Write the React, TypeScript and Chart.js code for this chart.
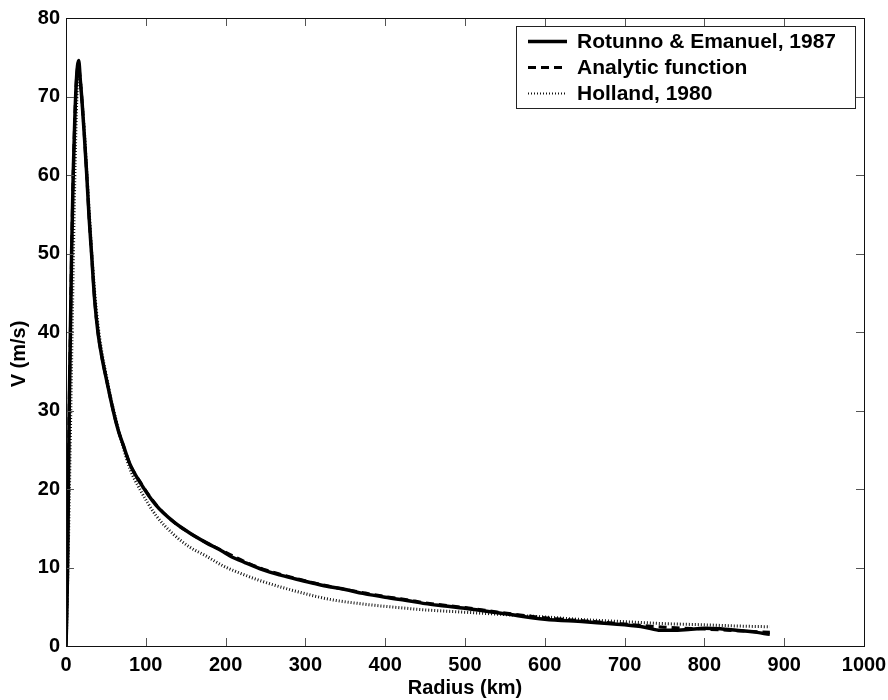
import { useEffect, useRef } from "react";
import { Chart, registerables } from "chart.js";

Chart.register(...registerables);

// Rotunno & Emanuel, 1987 (solid)
const reRadius = [0, 1, 2, 3, 4, 5.5, 7, 9, 11, 13, 15.9, 18, 20, 23, 26, 29, 32, 36, 40, 45, 50.6, 56, 61, 66, 71.4, 80, 92.4, 113, 135, 155, 175, 197, 205, 225, 247, 270, 289, 310, 330, 350, 372, 400, 427, 450, 475, 500, 550, 600, 650, 700, 725, 745, 760, 780, 800, 820, 840, 860, 882];
const reSpeed = [0, 4, 10, 20, 30, 40, 50, 60, 67, 72, 74.6, 72, 69.5, 65, 60, 54.5, 50, 44, 40, 36.8, 34.0, 31.4, 29.2, 27.3, 25.7, 23.2, 20.9, 17.9, 15.8, 14.4, 13.2, 12.0, 11.5, 10.6, 9.7, 9.0, 8.5, 8.0, 7.55, 7.2, 6.7, 6.2, 5.8, 5.4, 5.1, 4.8, 4.1, 3.4, 3.1, 2.7, 2.4, 2.0, 2.0, 2.1, 2.25, 2.2, 2.0, 1.8, 1.5];

// Analytic function (dashed)
const anRadius = [0, 1, 2, 3, 4, 5.5, 7, 9, 11, 13, 15.5, 18, 20, 23, 26, 29, 32, 36, 40, 45, 50.6, 56, 61, 66, 71.4, 80, 92.4, 113, 135, 155, 175, 197, 225, 247, 289, 330, 372, 400, 427, 450, 500, 550, 600, 650, 700, 750, 800, 840, 882];
const anSpeed = [0, 5, 11, 20, 30, 40, 50, 60, 67, 72, 74, 72, 69.5, 65, 60, 54.5, 50, 44, 40, 36.8, 34.0, 31.4, 29.2, 27.3, 25.7, 23.2, 21.0, 18.0, 15.8, 14.4, 13.2, 12.1, 10.7, 9.8, 8.6, 7.6, 6.8, 6.3, 5.9, 5.5, 4.9, 4.2, 3.6, 3.2, 2.8, 2.4, 2.15, 1.95, 1.75];

// Holland, 1980 (dotted)
const hoRadius = [0.5, 2, 4, 6, 8, 10, 12, 14, 15.9, 18, 20, 23, 26, 29, 32, 36, 40, 45, 50.6, 56, 61, 66, 71.4, 80, 92.4, 113, 135, 155, 175, 197, 225, 247, 289, 330, 372, 400, 427, 450, 500, 550, 600, 650, 700, 750, 800, 840, 882];
const hoSpeed = [1, 8, 18, 30, 42, 54, 64, 71, 73.5, 72, 69.5, 65.5, 60.5, 55.5, 50.5, 45, 41, 37.4, 34.4, 31.7, 29.5, 27.4, 25.4, 22.6, 20.0, 16.6, 14.2, 12.6, 11.5, 10.2, 9.0, 8.2, 6.95, 5.95, 5.35, 5.05, 4.8, 4.6, 4.3, 4.0, 3.7, 3.35, 3.1, 2.85, 2.7, 2.55, 2.45];

const seriesLabels = ["Rotunno & Emanuel, 1987", "Analytic function", "Holland, 1980"];
const xTitle = "Radius (km)";
const yTitle = "V (m/s)";
const xMin = 0, xMax = 1000, xStep = 100;
const yMin = 0, yMax = 80, yStep = 10;

const FONT = '"Liberation Sans", Arial, Helvetica, sans-serif';

const toPoints = (xs: number[], ys: number[]) => xs.map((x, i) => ({ x, y: ys[i] }));

const framePlugin = {
  id: "matlabFrame",
  afterDraw(chart: any) {
    const { ctx, chartArea: a, scales } = chart;
    const xs = scales.x;
    const ys = scales.y;
    ctx.save();
    // inward ticks on all four sides
    ctx.strokeStyle = "#555";
    ctx.lineWidth = 1;
    ctx.beginPath();
    const L = 8;
    xs.ticks.forEach((t: any) => {
      const px = Math.round(xs.getPixelForValue(t.value)) + 0.5;
      ctx.moveTo(px, a.bottom);
      ctx.lineTo(px, a.bottom - L);
      ctx.moveTo(px, a.top);
      ctx.lineTo(px, a.top + L);
    });
    ys.ticks.forEach((t: any) => {
      const py = Math.round(ys.getPixelForValue(t.value)) + 0.5;
      ctx.moveTo(a.left, py);
      ctx.lineTo(a.left + L, py);
      ctx.moveTo(a.right, py);
      ctx.lineTo(a.right - L, py);
    });
    ctx.stroke();
    // frame
    ctx.strokeStyle = "#111";
    ctx.strokeRect(Math.round(a.left) + 0.5, Math.round(a.top) + 0.5, Math.round(a.right - a.left), Math.round(a.bottom - a.top));

    // y title
    ctx.save();
    ctx.translate(19, 354);
    ctx.rotate(-Math.PI / 2);
    ctx.font = `bold 20px ${FONT}`;
    ctx.fillStyle = "#000";
    ctx.textAlign = "center";
    ctx.textBaseline = "middle";
    ctx.fillText(yTitle, 0, 0);
    ctx.restore();

    // legend box
    const bx = 516.5, by = 26.5, bw = 339, bh = 82;
    ctx.fillStyle = "#fff";
    ctx.fillRect(bx, by, bw, bh);
    ctx.strokeStyle = "#222";
    ctx.lineWidth = 1;
    ctx.strokeRect(bx, by, bw, bh);
    const rows = [41.5, 67.5, 93.5];
    chart.data.datasets.forEach((ds: any, i: number) => {
      const yy = rows[i];
      ctx.save();
      ctx.strokeStyle = ds.borderColor;
      ctx.lineWidth = i === 2 ? 2 : ds.borderWidth;
      ctx.setLineDash(ds.borderDash || []);
      ctx.beginPath();
      ctx.moveTo(528, yy);
      ctx.lineTo(567, yy);
      ctx.stroke();
      ctx.restore();
      ctx.font = `bold 21px ${FONT}`;
      ctx.fillStyle = "#000";
      ctx.textAlign = "left";
      ctx.textBaseline = "middle";
      ctx.fillText(ds.label, 577, yy + 1);
    });
    ctx.restore();
  },
};

export default function App() {
  const ref = useRef<HTMLCanvasElement | null>(null);
  useEffect(() => {
    if (!ref.current) return;
    const chart = new Chart(ref.current, {
      type: "line",
      data: {
        datasets: [
          {
            label: seriesLabels[0],
            data: toPoints(reRadius, reSpeed),
            borderColor: "#000",
            borderWidth: 3.5,
            pointRadius: 0,
            cubicInterpolationMode: "monotone",
            fill: false,
            order: 1,
          },
          {
            label: seriesLabels[1],
            data: toPoints(anRadius, anSpeed),
            borderColor: "#000",
            borderWidth: 3,
            borderDash: [8, 5],
            pointRadius: 0,
            cubicInterpolationMode: "monotone",
            fill: false,
            order: 2,
          },
          {
            label: seriesLabels[2],
            data: toPoints(hoRadius, hoSpeed),
            borderColor: "#111",
            borderWidth: 3,
            borderDash: [1, 2],
            pointRadius: 0,
            cubicInterpolationMode: "monotone",
            fill: false,
            order: 3,
          },
        ],
      },
      options: {
        responsive: false,
        animation: false,
        layout: { padding: { top: 18, right: 24, left: 0, bottom: 0 } },
        plugins: { legend: { display: false }, tooltip: { enabled: false } },
        scales: {
          x: {
            type: "linear",
            min: xMin,
            max: xMax,
            ticks: {
              stepSize: xStep,
              color: "#000",
              padding: 7,
              maxRotation: 0,
              callback: (v: any) => String(v),
              font: { family: FONT, size: 20, weight: "bold" },
            },
            grid: { display: false, drawTicks: false },
            border: { display: false },
            title: {
              display: true,
              text: xTitle,
              color: "#000",
              padding: { top: 0, bottom: 0 },
              font: { family: FONT, size: 20, weight: "bold" },
            },
            afterFit: (s: any) => {
              s.height = 54;
              s.paddingLeft = 0;
              s.paddingRight = 0;
            },
          },
          y: {
            type: "linear",
            min: yMin,
            max: yMax,
            ticks: {
              stepSize: yStep,
              color: "#000",
              padding: 6,
              callback: (v: any) => String(v),
              font: { family: FONT, size: 20, weight: "bold" },
            },
            grid: { display: false, drawTicks: false },
            border: { display: false },
            afterFit: (s: any) => {
              s.width = 66;
              s.paddingTop = 0;
              s.paddingBottom = 0;
            },
          },
        },
      },
      plugins: [framePlugin],
    } as any);
    return () => chart.destroy();
  }, []);
  return (
    <div style={{ position: "absolute", left: 0, top: 0, width: 888, height: 700, background: "#fff" }}>
      <canvas ref={ref} width={888} height={700} />
    </div>
  );
}
